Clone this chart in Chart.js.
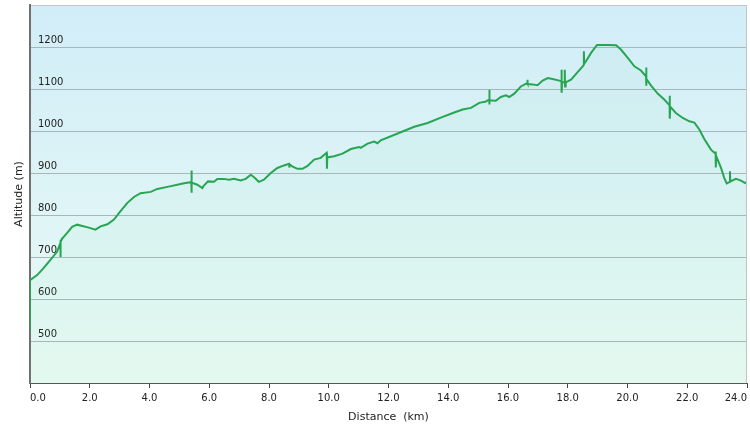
<!DOCTYPE html>
<html>
<head>
<meta charset="utf-8">
<title>Altitude profile</title>
<script src="https://cdn.jsdelivr.net/npm/chart.js@4.4.0/dist/chart.umd.min.js"></script>
<style>
  html, body { margin: 0; padding: 0; background: #fff; }
  #wrap { width: 750px; height: 429px; }
</style>
</head>
<body>
<div id="wrap"><canvas id="profileChart" width="750" height="429"></canvas></div>
<script>
// ===== DATA =====
// repeated distances are the GPS glitches that show up as short vertical strokes
const distKm = [
  0.00, 0.00, 0.24, 0.46, 0.69, 0.91, 1.02, 1.02, 1.02, 1.03, 1.08, 1.25, 1.41, 1.58, 1.75, 1.97,
  2.19, 2.36, 2.59, 2.81, 3.03, 3.26, 3.48, 3.70, 4.04, 4.26, 4.60, 5.04, 5.20, 5.40, 5.40, 5.41,
  5.42, 5.60, 5.77, 5.82, 5.96, 6.16, 6.27, 6.49, 6.66, 6.83, 7.05, 7.22, 7.39, 7.50, 7.66, 7.83,
  8.06, 8.28, 8.50, 8.67, 8.68, 8.69, 8.78, 8.95, 9.12, 9.29, 9.51, 9.73, 9.93, 9.94, 9.95, 10.18,
  10.46, 10.74, 11.01, 11.07, 11.30, 11.52, 11.63, 11.74, 12.41, 12.86, 13.31, 13.75, 14.20, 14.48,
  14.76, 15.04, 15.26, 15.37, 15.37, 15.38, 15.39, 15.59, 15.76, 15.93, 16.04, 16.21, 16.43, 16.64,
  16.65, 16.66, 16.82, 16.99, 17.16, 17.33, 17.49, 17.72, 17.79, 17.79, 17.80, 17.81, 17.90, 17.90,
  17.91, 17.92, 17.94, 18.11, 18.33, 18.50, 18.54, 18.54, 18.55, 18.61, 18.78, 18.98, 19.34, 19.62,
  19.78, 20.01, 20.23, 20.45, 20.62, 20.62, 20.63, 20.64, 20.79, 21.01, 21.23, 21.41, 21.41, 21.42,
  21.43, 21.62, 21.85, 22.07, 22.24, 22.41, 22.57, 22.80, 22.95, 22.95, 22.96, 22.97, 23.13, 23.24,
  23.32, 23.43, 23.43, 23.44, 23.63, 23.80, 23.94, 24.00
];
const altitudeM = [
  527, 645, 657, 674, 694, 713, 734, 700, 741, 736, 744, 758, 772, 777, 774, 770,
  765, 773, 778, 789, 809, 829, 843, 852, 855, 862, 867, 874, 876, 878, 906, 853,
  877, 872, 864, 870, 880, 879, 886, 886, 884, 886, 882, 886, 896, 890, 879, 884,
  900, 912, 918, 922, 913, 921, 916, 910, 910, 917, 932, 936, 948, 910, 937, 940,
  946, 957, 962, 960, 970, 975, 971, 978, 997, 1010, 1019, 1032, 1044, 1051,
  1055, 1067, 1070, 1075, 1098, 1063, 1073, 1072, 1081, 1085, 1081, 1089, 1106, 1114,
  1122, 1112, 1111, 1109, 1120, 1126, 1124, 1120, 1118, 1146, 1091, 1116, 1116, 1146,
  1106, 1116, 1116, 1122, 1140, 1154, 1158, 1190, 1160, 1166, 1186, 1205, 1205, 1204,
  1194, 1174, 1154, 1144, 1130, 1151, 1108, 1124, 1108, 1089, 1075, 1061, 1084, 1029,
  1058, 1043, 1031, 1023, 1020, 1003, 981, 955, 946, 951, 913, 940, 912, 888,
  875, 879, 904, 880, 886, 882, 876, 879
];

const altMin = 400, altMax = 1300, altStep = 100;
const kmMin = 0, kmMax = 24, kmStep = 2;

const FONT = 'DejaVu Sans';

// ===== PLOT BACKGROUND + FRAME =====
const plotFrame = {
  id: 'plotFrame',
  beforeDraw(chart) {
    const { ctx, chartArea: a } = chart;
    const g = ctx.createLinearGradient(0, a.top, 0, a.bottom);
    g.addColorStop(0, '#d1edf8');
    g.addColorStop(1, '#eafbf4');
    ctx.save();
    ctx.fillStyle = g;
    ctx.fillRect(a.left, a.top, a.right - a.left, a.bottom - a.top);
    ctx.restore();
  },
  afterDraw(chart) {
    const { ctx, chartArea: a } = chart;
    ctx.save();
    ctx.strokeStyle = '#c4c4c4';
    ctx.lineWidth = 1;
    ctx.beginPath();
    ctx.moveTo(Math.round(a.right) - 0.5, a.top);
    ctx.lineTo(Math.round(a.right) - 0.5, a.bottom);
    ctx.stroke();
    ctx.restore();
  }
};

// ===== CHART =====
new Chart(document.getElementById('profileChart'), {
  type: 'line',
  data: {
    datasets: [{
      data: distKm.map((d, i) => ({ x: d, y: altitudeM[i] })),
      borderColor: '#27a552',
      borderWidth: 2,
      backgroundColor: 'rgba(90,215,150,0.05)',
      fill: 'start',
      pointRadius: 0,
      tension: 0
    }]
  },
  options: {
    responsive: false,
    animation: false,
    layout: { padding: { top: 5, right: 3, left: 0, bottom: 0 }, autoPadding: false },
    plugins: { legend: { display: false }, tooltip: { enabled: false } },
    scales: {
      x: {
        type: 'linear', min: kmMin, max: kmMax,
        afterFit: s => { s.height = 46; s.paddingLeft = 0; s.paddingRight = 0; },
        border: { color: '#555', width: 1 },
        grid: { drawOnChartArea: false, drawTicks: true, tickLength: 5, color: '#444' },
        ticks: {
          stepSize: kmStep, align: 'inner', maxRotation: 0, autoSkip: false, padding: 4,
          color: '#222', font: { family: FONT, size: 10 },
          callback: v => v.toFixed(1)
        },
        title: {
          display: true, text: 'Distance  (km)', color: '#222',
          font: { family: FONT, size: 11 }, padding: { top: 0, bottom: 5 }
        }
      },
      y: {
        min: altMin, max: altMax,
        afterFit: s => { s.width = 30; s.paddingTop = 0; s.paddingBottom = 0; },
        border: { color: '#707070', width: 2 },
        grid: {
          drawTicks: false,
          color: c => {
            if (!c.tick) return '#a9b6bb';
            if (c.tick.value === altMin) return 'rgba(0,0,0,0)';
            if (c.tick.value === altMax) return '#c4c4c4';
            return '#a9b6bb';
          }
        },
        ticks: {
          stepSize: altStep, mirror: true, padding: 8, labelOffset: -7,
          color: '#222', font: { family: FONT, size: 10 },
          callback: v => (v > altMin && v < altMax) ? v : ''
        },
        title: {
          display: true, text: 'Altitude (m)', color: '#222',
          font: { family: FONT, size: 11 }, padding: { top: 13, bottom: 0 }
        }
      }
    }
  },
  plugins: [plotFrame]
});
</script>
</body>
</html>
